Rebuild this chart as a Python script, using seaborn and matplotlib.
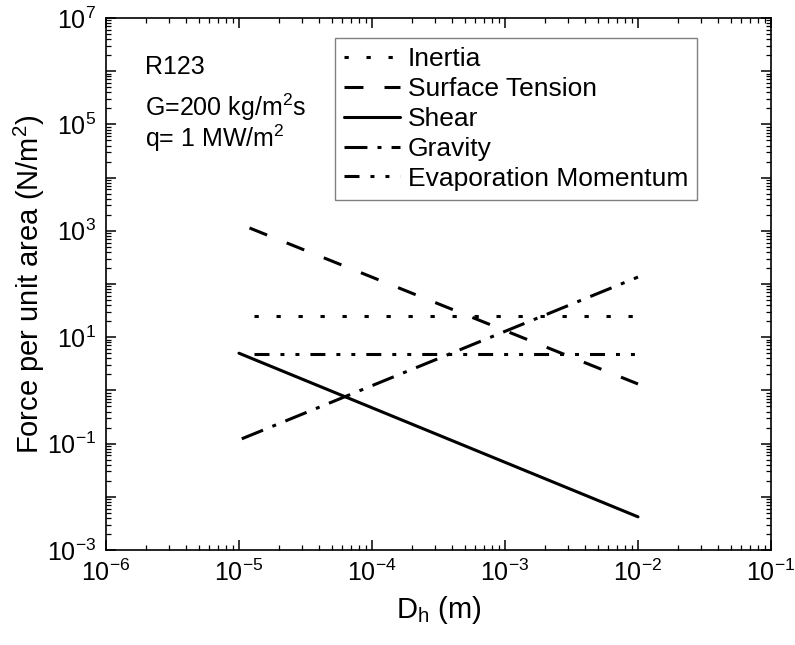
import numpy as np
import pandas as pd
import seaborn as sns
import matplotlib.pyplot as plt
from matplotlib.ticker import LogLocator, NullFormatter

# end points: D_h (m) vs force per unit area (N/m^2)
labels = ["Inertia", "Surface Tension", "Shear", "Gravity", "Evaporation Momentum"]
dh_inertia = [1.3e-5, 1e-2]
f_inertia = [25, 25]
dh_surface = [1.2e-5, 1e-2]
f_surface = [1130, 1.32]
dh_shear = [1e-5, 1e-2]
f_shear = [5.0, 0.0042]
dh_gravity = [1.05e-5, 1e-2]
f_gravity = [0.123, 135]
dh_evap = [1.3e-5, 1e-2]
f_evap = [4.8, 4.8]

annot = ["R123", "G=200 kg/m$^2$s", "q= 1 MW/m$^2$"]

dashes = {
    "Inertia": (1.4, 5.8),
    "Surface Tension": (6.2, 6.9),
    "Shear": "",
    "Gravity": (7.5, 3.3, 1.3, 3.3),
    "Evaporation Momentum": (4.9, 3.6, 1.3, 3.6, 1.3, 3.6),
}

series = [(dh_inertia, f_inertia), (dh_surface, f_surface), (dh_shear, f_shear),
          (dh_gravity, f_gravity), (dh_evap, f_evap)]
df = pd.concat([pd.DataFrame({"Dh": x, "F": y, "Force": name})
                for name, (x, y) in zip(labels, series)], ignore_index=True)

sns.set_theme(style="ticks")
plt.rcParams["font.family"] = ["Liberation Sans", "DejaVu Sans"]
plt.rcParams["mathtext.fontset"] = "custom"
plt.rcParams["mathtext.rm"] = "Liberation Sans"
plt.rcParams["mathtext.it"] = "Liberation Sans:italic"
plt.rcParams["mathtext.bf"] = "Liberation Sans:bold"
plt.rcParams["axes.unicode_minus"] = False
for k in ["text.color", "axes.labelcolor", "xtick.color", "ytick.color", "axes.edgecolor"]:
    plt.rcParams[k] = "black"

fig, ax = plt.subplots(figsize=(7.95, 6.45), dpi=100)
fig.subplots_adjust(left=0.1333, right=0.9698, top=0.9721, bottom=0.1473)

sns.lineplot(data=df, x="Dh", y="F", style="Force", style_order=labels,
             dashes=dashes, color="black", linewidth=2.2, errorbar=None,
             legend=False, ax=ax)

ax.set_xscale("log")
ax.set_yscale("log")
ax.set_xlim(1e-6, 1e-1)
ax.set_ylim(1e-3, 1e7)

ax.xaxis.set_major_locator(LogLocator(base=10, numticks=10))
ax.xaxis.set_minor_locator(LogLocator(base=10, subs=np.arange(2, 10), numticks=20))
ax.xaxis.set_minor_formatter(NullFormatter())
yt = [10.0 ** k for k in range(-3, 8)]
ax.set_yticks(yt)
ax.set_yticklabels(["$\\mathdefault{10^{%d}}$" % k if k % 2 else "" for k in range(-3, 8)])
ax.yaxis.set_minor_locator(LogLocator(base=10, subs=np.arange(2, 10), numticks=20))
ax.yaxis.set_minor_formatter(NullFormatter())

ax.tick_params(which="both", direction="in", top=True, right=True)
ax.tick_params(which="major", length=7, width=1.1, labelsize=18, pad=7)
ax.tick_params(which="minor", length=3.5, width=0.9)
for s in ax.spines.values():
    s.set_linewidth(1.2)

ax.set_xlabel("D$_\\mathrm{h}$ (m)", fontsize=21, labelpad=6)
ax.set_ylabel("Force per unit area (N/m$^2$)", fontsize=21, labelpad=0)

for txt, yy in zip(annot, [0.895, 0.8167, 0.7566]):
    ax.text(0.0586, yy, txt, transform=ax.transAxes, fontsize=18, va="baseline")

leg = ax.legend(ax.get_lines(), labels, loc="upper right", bbox_to_anchor=(0.889, 0.962),
                fontsize=19, frameon=True, fancybox=False, framealpha=1,
                edgecolor="#808080", handlelength=2.1, handletextpad=0.3,
                labelspacing=0.22, borderpad=0.35, borderaxespad=0)
leg.get_frame().set_linewidth(1.0)

plt.savefig("out.png", dpi=100)
